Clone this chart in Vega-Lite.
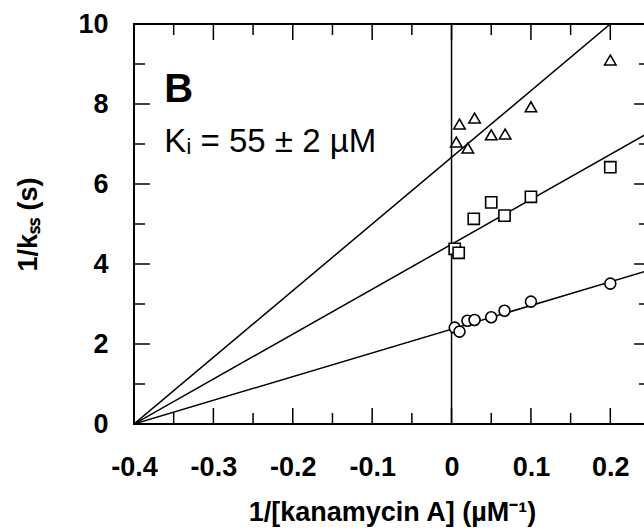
{
  "$schema": "https://vega.github.io/schema/vega-lite/v6.json",
  "width": 516,
  "height": 400,
  "autosize": {"type": "none"},
  "padding": {"left": 134, "top": 24, "right": -6, "bottom": 108},
  "background": "white",
  "config": {
    "view": {"stroke": "black", "strokeWidth": 2},
    "font": "Liberation Sans"
  },
  "resolve": {"scale": {"size": "independent"}},
  "datasets": {
    "points": [
      {"series": "s1", "x": 0.004, "y": 2.41},
      {"series": "s1", "x": 0.01, "y": 2.31},
      {"series": "s1", "x": 0.02, "y": 2.58},
      {"series": "s1", "x": 0.029, "y": 2.6},
      {"series": "s1", "x": 0.05, "y": 2.67},
      {"series": "s1", "x": 0.0667, "y": 2.83},
      {"series": "s1", "x": 0.1, "y": 3.06},
      {"series": "s1", "x": 0.2, "y": 3.51},
      {"series": "s2", "x": 0.004, "y": 4.38},
      {"series": "s2", "x": 0.009, "y": 4.28},
      {"series": "s2", "x": 0.028, "y": 5.13},
      {"series": "s2", "x": 0.05, "y": 5.54},
      {"series": "s2", "x": 0.0667, "y": 5.21},
      {"series": "s2", "x": 0.1, "y": 5.68},
      {"series": "s2", "x": 0.2, "y": 6.42},
      {"series": "s3", "x": 0.006, "y": 7.05},
      {"series": "s3", "x": 0.01, "y": 7.5},
      {"series": "s3", "x": 0.0205, "y": 6.9},
      {"series": "s3", "x": 0.029, "y": 7.65},
      {"series": "s3", "x": 0.05, "y": 7.23},
      {"series": "s3", "x": 0.0675, "y": 7.25},
      {"series": "s3", "x": 0.1, "y": 7.93},
      {"series": "s3", "x": 0.2, "y": 9.1}
    ],
    "fits": [
      {"series": "s1", "x": -0.4, "y": 0},
      {"series": "s1", "x": 0.25, "y": 3.85},
      {"series": "s2", "x": -0.4, "y": 0},
      {"series": "s2", "x": 0.25, "y": 7.3},
      {"series": "s3", "x": -0.4, "y": 0},
      {"series": "s3", "x": 0.2, "y": 10}
    ],
    "xticks": [
      {"pos": -0.4, "kind": "major"}, {"pos": -0.35, "kind": "minor"},
      {"pos": -0.3, "kind": "major"}, {"pos": -0.25, "kind": "minor"},
      {"pos": -0.2, "kind": "major"}, {"pos": -0.15, "kind": "minor"},
      {"pos": -0.1, "kind": "major"}, {"pos": -0.05, "kind": "minor"},
      {"pos": 0, "kind": "major"}, {"pos": 0.05, "kind": "minor"},
      {"pos": 0.1, "kind": "major"}, {"pos": 0.15, "kind": "minor"},
      {"pos": 0.2, "kind": "major"}, {"pos": 0.25, "kind": "minor"}
    ],
    "yticks": [
      {"pos": 0, "kind": "major"}, {"pos": 1, "kind": "minor"},
      {"pos": 2, "kind": "major"}, {"pos": 3, "kind": "minor"},
      {"pos": 4, "kind": "major"}, {"pos": 5, "kind": "minor"},
      {"pos": 6, "kind": "major"}, {"pos": 7, "kind": "minor"},
      {"pos": 8, "kind": "major"}, {"pos": 9, "kind": "minor"},
      {"pos": 10, "kind": "major"}
    ]
  },
  "layer": [
    {
      "data": {"values": [{"x": 0}]},
      "mark": {"type": "rule", "color": "black", "strokeWidth": 1.5},
      "encoding": {
        "x": {
          "field": "x", "type": "quantitative",
          "scale": {"domain": [-0.4, 0.25], "nice": false, "zero": false},
          "axis": {
            "orient": "bottom", "domain": false, "grid": false, "ticks": false,
            "values": [-0.4, -0.3, -0.2, -0.1, 0, 0.1, 0.2],
            "labelExpr": "'' + datum.value",
            "labelFont": "Liberation Sans", "labelFontWeight": "bold", "labelFontSize": 27, "labelColor": "black",
            "labelBaseline": "alphabetic", "labelPadding": 51, "labelFlush": false, "labelOverlap": false,
            "title": "1/[kanamycin A] (µM⁻¹)",
            "titleFont": "Liberation Sans", "titleFontSize": 27, "titleFontWeight": "bold", "titleColor": "black",
            "titleBaseline": "alphabetic", "titleAlign": "center", "titleX": 258, "titleY": 96
          }
        }
      }
    },
    {
      "data": {"name": "xticks"},
      "mark": {"type": "tick", "orient": "vertical", "color": "black", "thickness": 1.5, "opacity": 1, "clip": true},
      "encoding": {
        "x": {"field": "pos", "type": "quantitative", "scale": {"domain": [-0.4, 0.25], "nice": false, "zero": false}},
        "y": {"datum": 0, "type": "quantitative", "scale": {"domain": [0, 10], "nice": false, "zero": false}},
        "size": {"field": "kind", "type": "nominal", "scale": {"domain": ["major", "minor"], "range": [32, 22]}, "legend": null}
      }
    },
    {
      "data": {"name": "xticks"},
      "mark": {"type": "tick", "orient": "vertical", "color": "black", "thickness": 1.5, "opacity": 1, "clip": true},
      "encoding": {
        "x": {"field": "pos", "type": "quantitative", "scale": {"domain": [-0.4, 0.25], "nice": false, "zero": false}},
        "y": {"datum": 10, "type": "quantitative", "scale": {"domain": [0, 10], "nice": false, "zero": false}},
        "size": {"field": "kind", "type": "nominal", "scale": {"domain": ["major", "minor"], "range": [32, 22]}, "legend": null}
      }
    },
    {
      "data": {"name": "yticks"},
      "mark": {"type": "tick", "orient": "horizontal", "color": "black", "thickness": 1.5, "opacity": 1, "clip": true},
      "encoding": {
        "y": {"field": "pos", "type": "quantitative", "scale": {"domain": [0, 10], "nice": false, "zero": false}},
        "x": {"datum": -0.4, "type": "quantitative", "scale": {"domain": [-0.4, 0.25], "nice": false, "zero": false}},
        "size": {"field": "kind", "type": "nominal", "scale": {"domain": ["major", "minor"], "range": [32, 22]}, "legend": null}
      }
    },
    {
      "data": {"name": "yticks"},
      "mark": {"type": "tick", "orient": "horizontal", "color": "black", "thickness": 1.5, "opacity": 1, "clip": true},
      "encoding": {
        "y": {"field": "pos", "type": "quantitative", "scale": {"domain": [0, 10], "nice": false, "zero": false}},
        "x": {"datum": 0.25, "type": "quantitative", "scale": {"domain": [-0.4, 0.25], "nice": false, "zero": false}},
        "size": {"field": "kind", "type": "nominal", "scale": {"domain": ["major", "minor"], "range": [32, 22]}, "legend": null}
      }
    },
    {
      "data": {"name": "fits"},
      "mark": {"type": "line", "color": "black", "strokeWidth": 1.5, "clip": true},
      "encoding": {
        "x": {"field": "x", "type": "quantitative", "scale": {"domain": [-0.4, 0.25], "nice": false, "zero": false}},
        "y": {"field": "y", "type": "quantitative", "scale": {"domain": [0, 10], "nice": false, "zero": false}},
        "detail": {"field": "series", "type": "nominal"}
      }
    },
    {
      "data": {"name": "points"},
      "mark": {"type": "point", "filled": true, "fill": "white", "stroke": "black", "strokeWidth": 1.6, "opacity": 1},
      "encoding": {
        "x": {"field": "x", "type": "quantitative", "scale": {"domain": [-0.4, 0.25], "nice": false, "zero": false}},
        "y": {
          "field": "y", "type": "quantitative",
          "scale": {"domain": [0, 10], "nice": false, "zero": false},
          "axis": {
            "orient": "left", "domain": false, "grid": false, "ticks": false,
            "values": [0, 2, 4, 6, 8, 10],
            "labelExpr": "'' + datum.value",
            "labelFont": "Liberation Sans", "labelFontWeight": "bold", "labelFontSize": 27, "labelColor": "black",
            "labelPadding": 26, "labelOverlap": false, "labelFlush": false,
            "title": "1/kₛₛ (s)",
            "titleFont": "Liberation Sans", "titleFontSize": 27, "titleFontWeight": "bold", "titleColor": "black",
            "titleAngle": 270, "titleBaseline": "middle", "titleAlign": "center", "titleX": -106, "titleY": 200
          }
        },
        "shape": {"field": "series", "type": "nominal", "scale": {"domain": ["s1", "s2", "s3"], "range": ["circle", "square", "triangle-up"]}, "legend": null},
        "size": {"field": "series", "type": "nominal", "scale": {"domain": ["s1", "s2", "s3"], "range": [120, 130, 200]}, "legend": null}
      }
    },
    {
      "data": {"values": [{"label": "B", "x": -0.362, "y": 8.06}]},
      "mark": {"type": "text", "font": "Liberation Sans", "fontWeight": "bold", "fontSize": 40, "align": "left", "baseline": "alphabetic", "color": "black"},
      "encoding": {
        "x": {"field": "x", "type": "quantitative", "scale": {"domain": [-0.4, 0.25], "nice": false, "zero": false}},
        "y": {"field": "y", "type": "quantitative", "scale": {"domain": [0, 10], "nice": false, "zero": false}},
        "text": {"field": "label"}
      }
    },
    {
      "data": {"values": [{"label": "Kᵢ = 55 ± 2 µM", "x": -0.362, "y": 6.81}]},
      "mark": {"type": "text", "font": "Liberation Sans", "fontSize": 33, "align": "left", "baseline": "alphabetic", "color": "black"},
      "encoding": {
        "x": {"field": "x", "type": "quantitative", "scale": {"domain": [-0.4, 0.25], "nice": false, "zero": false}},
        "y": {"field": "y", "type": "quantitative", "scale": {"domain": [0, 10], "nice": false, "zero": false}},
        "text": {"field": "label"}
      }
    }
  ]
}
